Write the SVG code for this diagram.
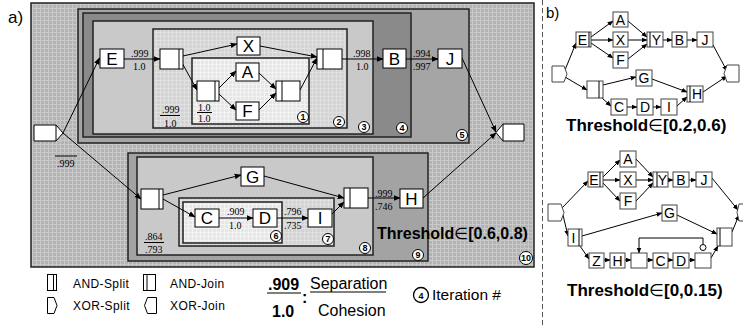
<svg xmlns="http://www.w3.org/2000/svg" width="743" height="325" viewBox="0 0 743 325">
<defs>
<pattern id="p10" width="4" height="4" patternUnits="userSpaceOnUse"><rect width="4" height="4" fill="#b3b3b3"/><path d="M0,0.5H4M0.5,0V4" stroke="#c9c9c9" stroke-width="1"/></pattern>
<pattern id="p2" width="4" height="4" patternUnits="userSpaceOnUse"><rect width="4" height="4" fill="#d3d3d3"/><path d="M0,0.5H4M0.5,0V4" stroke="#e0e0e0" stroke-width="1"/></pattern>
<pattern id="p1" width="4" height="4" patternUnits="userSpaceOnUse"><rect width="4" height="4" fill="#e6e6e6"/><path d="M0,0.5H4M0.5,0V4" stroke="#f3f3f3" stroke-width="1"/></pattern>
<marker id="ah" viewBox="0 0 10 10" refX="9" refY="5" markerWidth="7" markerHeight="7" markerUnits="userSpaceOnUse" orient="auto"><path d="M0,1L10,5L0,9z" fill="#000"/></marker>
<marker id="as" viewBox="0 0 10 10" refX="9" refY="5" markerWidth="6" markerHeight="6" markerUnits="userSpaceOnUse" orient="auto"><path d="M0,1L10,5L0,9z" fill="#000"/></marker>
</defs>
<style>
.rg{stroke:#222;stroke-width:1.5}
.n{fill:#fff;stroke:#000;stroke-width:1}
.nb{fill:#fff;stroke:#444;stroke-width:1}
.bar{stroke:#000;stroke-width:1;fill:none}
.nt{font-family:"Liberation Sans",Arial,sans-serif;font-size:17px;text-anchor:middle}
.bt{font-family:"Liberation Sans",Arial,sans-serif;font-size:14px;text-anchor:middle}
.fr{font-family:"Liberation Serif","Times New Roman",serif;font-size:10px}
.c{fill:none;stroke:#000;stroke-width:1;marker-end:url(#ah)}
.cs{fill:none;stroke:#000;stroke-width:1;marker-end:url(#as)}
.ci{fill:#fff;stroke:#000;stroke-width:1}
.cn{font-family:"Liberation Sans",Arial,sans-serif;font-size:9px;font-weight:bold;text-anchor:middle}
.th{font-family:"Liberation Sans",Arial,sans-serif;font-weight:bold}
.el{font-family:"DejaVu Sans",sans-serif;font-weight:normal}
.lg{font-family:"Liberation Sans",Arial,sans-serif;font-size:12px;letter-spacing:0.4px}
.sa{font-family:"Liberation Sans",Arial,sans-serif}
</style>
<rect width="743" height="325" fill="#fff"/>
<text class="sa" x="8" y="23" font-size="17">a)</text>
<text class="sa" x="546" y="18" font-size="15">b)</text>
<line x1="542.5" y1="0" x2="542.5" y2="325" stroke="#555" stroke-width="1" stroke-dasharray="5,3"/>

<g id="regions">
<g id="region10"><rect class="rg" x="31" y="3" width="503" height="264" fill="url(#p10)"/><circle class="ci" cx="526" cy="258" r="6.5"/><text class="cn" x="526" y="261" font-size="8">10</text></g>
<g id="region5"><rect class="rg" x="78" y="9" width="391" height="134" fill="#a5a5a5"/><circle class="ci" cx="462" cy="135" r="5.5"/><text class="cn" x="462" y="138.2">5</text></g>
<g id="region4"><rect class="rg" x="83" y="13" width="328" height="124" fill="#8a8a8a"/><circle class="ci" cx="402" cy="128" r="5.5"/><text class="cn" x="402" y="131.2">4</text></g>
<g id="region3"><rect class="rg" x="93" y="21" width="280" height="113" fill="#c9c9c9"/><circle class="ci" cx="364" cy="127" r="5.5"/><text class="cn" x="364" y="130.2">3</text></g>
<g id="region2"><rect class="rg" x="153" y="29" width="194" height="99" fill="url(#p2)" stroke-width="1"/><circle class="ci" cx="339" cy="122" r="5.5"/><text class="cn" x="339" y="125.2">2</text></g>
<g id="region1"><rect class="rg" x="192" y="58" width="117" height="66" fill="url(#p1)" stroke-width="1"/><circle class="ci" cx="303" cy="117" r="5.5"/><text class="cn" x="303" y="120.2">1</text></g>
<g id="region9"><rect class="rg" x="128" y="153" width="300" height="108" fill="#a3a3a3"/><circle class="ci" cx="418" cy="255" r="5.5"/><text class="cn" x="418" y="258.2">9</text></g>
<g id="region8"><rect class="rg" x="137" y="157" width="236" height="98" fill="#c9c9c9"/><circle class="ci" cx="365" cy="248" r="5.5"/><text class="cn" x="365" y="251.2">8</text></g>
<g id="region7"><rect class="rg" x="179" y="198" width="155" height="48" fill="url(#p2)" stroke-width="1"/><circle class="ci" cx="328" cy="239" r="5.5"/><text class="cn" x="328" y="242.2">7</text></g>
<g id="region6"><rect class="rg" x="183" y="202" width="99" height="41" fill="url(#p1)" stroke-width="1"/><circle class="ci" cx="276" cy="236" r="5.5"/><text class="cn" x="276" y="239.2">6</text></g>
</g>

<g id="connectors-a">
<path class="c" d="M63,133L99.5,58"/>
<path class="c" d="M63,133L141,199"/>
<path class="c" d="M124,59H160"/>
<path class="c" d="M183,56L237,44"/>
<path class="c" d="M181,61L197,90"/>
<path class="c" d="M219,88L236,71"/>
<path class="c" d="M219,94L236,110"/>
<path class="c" d="M259,73L276,89"/>
<path class="c" d="M259,110L276,93"/>
<path class="c" d="M260,46L317,57"/>
<path class="c" d="M300,90L317,58"/>
<path class="c" d="M342,59H383"/>
<path class="c" d="M406,59H438"/>
<path class="c" d="M462,58L496,132"/>
<path class="c" d="M423,198L496,133"/>
<path class="c" d="M163,195L241,175"/>
<path class="c" d="M163,199L195,217"/>
<path class="c" d="M264,176L344,198"/>
<path class="c" d="M219,218H253"/>
<path class="c" d="M277,218H308"/>
<path class="c" d="M332,214L344,202"/>
<path class="c" d="M368,198H400"/>
</g>

<g id="nodes-a">
<g id="start"><path class="n" d="M34,125H56L63,133L56,141H34Z"/><line class="bar" x1="56" y1="125" x2="56" y2="141"/></g>
<g id="E"><rect class="n" x="100" y="49" width="24" height="19"/><text class="nt" x="112" y="65">E</text></g>
<g id="split1"><rect class="n" x="160" y="49" width="23" height="20"/><line class="bar" x1="179" y1="49" x2="179" y2="69"/></g>
<g id="X"><rect class="n" x="237" y="37" width="23" height="18"/><text class="nt" x="248.5" y="52">X</text></g>
<g id="split2"><rect class="n" x="197" y="81" width="22" height="20"/><line class="bar" x1="215" y1="81" x2="215" y2="101"/></g>
<g id="A"><rect class="n" x="236" y="63" width="23" height="18"/><text class="nt" x="247.5" y="78">A</text></g>
<g id="F"><rect class="n" x="236" y="102" width="23" height="18"/><text class="nt" x="247.5" y="117">F</text></g>
<g id="join1"><rect class="n" x="276" y="81" width="24" height="20"/><line class="bar" x1="282" y1="81" x2="282" y2="101"/></g>
<g id="join2"><rect class="n" x="317" y="49" width="25" height="20"/><line class="bar" x1="323" y1="49" x2="323" y2="69"/></g>
<g id="B"><rect class="n" x="383" y="49" width="23" height="19"/><text class="nt" x="394.5" y="65">B</text></g>
<g id="J"><rect class="n" x="438" y="49" width="24" height="19"/><text class="nt" x="450" y="65">J</text></g>
<g id="end"><path class="n" d="M503,124H524V141H503L496,132.5Z"/><line class="bar" x1="503" y1="124" x2="503" y2="141"/></g>
<g id="split3"><rect class="n" x="141" y="189" width="22" height="20"/><line class="bar" x1="159" y1="189" x2="159" y2="209"/></g>
<g id="G"><rect class="n" x="241" y="167" width="23" height="19"/><text class="nt" x="252.5" y="183">G</text></g>
<g id="C"><rect class="n" x="195" y="209" width="24" height="18"/><text class="nt" x="207" y="224">C</text></g>
<g id="D"><rect class="n" x="253" y="209" width="24" height="18"/><text class="nt" x="265" y="224">D</text></g>
<g id="I"><rect class="n" x="308" y="209" width="24" height="18"/><text class="nt" x="320" y="224">I</text></g>
<g id="join3"><rect class="n" x="344" y="188" width="24" height="20"/><line class="bar" x1="350" y1="188" x2="350" y2="208"/></g>
<g id="H"><rect class="n" x="400" y="189" width="23" height="19"/><text class="nt" x="411.5" y="205">H</text></g>
</g>

<g id="labels-a">
<text class="fr" x="131" y="57">.999</text><text class="fr" x="133" y="70">1.0</text>
<text class="fr" x="162" y="113">.999</text><line x1="160" y1="115.5" x2="180" y2="115.5" stroke="#000"/><text class="fr" x="164" y="127">1.0</text>
<text class="fr" x="198" y="111">1.0</text><line x1="197" y1="112.5" x2="212" y2="112.5" stroke="#000"/><text class="fr" x="198" y="122">1.0</text>
<text class="fr" x="353" y="57">.998</text><text class="fr" x="356" y="70">1.0</text>
<text class="fr" x="413" y="57">.994</text><text class="fr" x="413" y="70">.997</text>
<line x1="55" y1="156" x2="77" y2="156" stroke="#000"/><text class="fr" x="57" y="167">.999</text>
<text class="fr" x="227" y="215">.909</text><text class="fr" x="229" y="229">1.0</text>
<text class="fr" x="284" y="215">.796</text><text class="fr" x="284" y="229">.735</text>
<text class="fr" x="375" y="197">.999</text><text class="fr" x="375" y="210">.746</text>
<text class="fr" x="145" y="240">.864</text><line x1="144" y1="242.5" x2="164" y2="242.5" stroke="#000"/><text class="fr" x="145" y="253">.793</text>
<text class="th" x="377" y="239" font-size="16">Threshold<tspan class="el">∈</tspan>[0.6,0.8)</text>
</g>

<g id="connectors-b">
<path class="cs" d="M565,70L576,43"/>
<path class="cs" d="M565,77L587,90"/>
<path class="cs" d="M591,37L613,21"/>
<path class="cs" d="M591,40H613"/>
<path class="cs" d="M591,43L613,58"/>
<path class="cs" d="M628,21L647,37"/>
<path class="cs" d="M628,40H647"/>
<path class="cs" d="M628,59L647,44"/>
<path class="cs" d="M663,40H672"/>
<path class="cs" d="M687,40H697"/>
<path class="cs" d="M713,45L727,71"/>
<path class="cs" d="M603,85L636,77"/>
<path class="cs" d="M602,98L611,106"/>
<path class="cs" d="M652,79L687,92"/>
<path class="cs" d="M627,107H637"/>
<path class="cs" d="M653,107H661"/>
<path class="cs" d="M677,106L687,97"/>
<path class="cs" d="M703,92L727,76"/>

<path class="cs" d="M562,208L588,181"/>
<path class="cs" d="M563,215L568,236"/>
<path class="cs" d="M603,177L620,160"/>
<path class="cs" d="M603,180H620"/>
<path class="cs" d="M603,183L620,201"/>
<path class="cs" d="M636,159L653,177"/>
<path class="cs" d="M636,180H653"/>
<path class="cs" d="M636,201L653,183"/>
<path class="cs" d="M668,180H673"/>
<path class="cs" d="M689,180H696"/>
<path class="cs" d="M712,178L738,210"/>
<path class="cs" d="M582,236L662,213"/>
<path class="cs" d="M580,246L589,259"/>
<path class="cs" d="M677,215L717,234"/>
<path class="cs" d="M604,260H610"/>
<path class="cs" d="M625,260H631"/>
<path class="cs" d="M647,260H653"/>
<path class="cs" d="M668,260H673"/>
<path class="cs" d="M689,260H695"/>
<path class="cs" d="M711,258L718,246"/>
<path class="cs" d="M732,232L739,215"/>
<path class="cs" d="M703,244.5V238H639V253"/>
</g>

<g id="nodes-b">
<g id="b1-start"><path class="nb" d="M552,66H564L567,74L564,82H552Z"/></g>
<g id="b1-E"><rect class="nb" x="576" y="32" width="15" height="15"/><line class="bar" x1="589" y1="32" x2="589" y2="47"/><text class="bt" x="582.5" y="44.5">E</text></g>
<g id="b1-A"><rect class="nb" x="613" y="12" width="15" height="15"/><text class="bt" x="620.5" y="24.5">A</text></g>
<g id="b1-X"><rect class="nb" x="613" y="32" width="15" height="15"/><text class="bt" x="620.5" y="44.5">X</text></g>
<g id="b1-F"><rect class="nb" x="613" y="52" width="15" height="16"/><text class="bt" x="620.5" y="65">F</text></g>
<g id="b1-Y"><rect class="nb" x="647" y="32" width="16" height="15"/><line class="bar" x1="650" y1="32" x2="650" y2="47"/><text class="bt" x="656.5" y="44.5">Y</text></g>
<g id="b1-B"><rect class="nb" x="672" y="32" width="15" height="15"/><text class="bt" x="679.5" y="44.5">B</text></g>
<g id="b1-J"><rect class="nb" x="697" y="32" width="16" height="15"/><text class="bt" x="705" y="44.5">J</text></g>
<g id="b1-end"><path class="nb" d="M727,65H739V82H727L724,73.5Z"/></g>
<g id="b1-split"><rect class="nb" x="587" y="81" width="16" height="17"/><line class="bar" x1="599" y1="81" x2="599" y2="98"/></g>
<g id="b1-G"><rect class="nb" x="636" y="70" width="16" height="16"/><text class="bt" x="644" y="83">G</text></g>
<g id="b1-C"><rect class="nb" x="611" y="99" width="16" height="16"/><text class="bt" x="619" y="112">C</text></g>
<g id="b1-D"><rect class="nb" x="637" y="99" width="16" height="16"/><text class="bt" x="645" y="112">D</text></g>
<g id="b1-I"><rect class="nb" x="661" y="99" width="16" height="16"/><text class="bt" x="669" y="112">I</text></g>
<g id="b1-H"><rect class="nb" x="687" y="86" width="16" height="16"/><line class="bar" x1="690" y1="86" x2="690" y2="102"/><text class="bt" x="697" y="99">H</text></g>
<text class="th" x="566" y="131" font-size="17">Threshold<tspan class="el">∈</tspan>[0.2,0.6)</text>

<g id="b2-start"><path class="nb" d="M548,204H561L564,212.5L561,221H548Z"/></g>
<g id="b2-E"><rect class="nb" x="588" y="172" width="15" height="15"/><line class="bar" x1="600" y1="172" x2="600" y2="187"/><text class="bt" x="594" y="184.5">E</text></g>
<g id="b2-A"><rect class="nb" x="620" y="151" width="16" height="16"/><text class="bt" x="628" y="164">A</text></g>
<g id="b2-X"><rect class="nb" x="620" y="172" width="16" height="15"/><text class="bt" x="628" y="184.5">X</text></g>
<g id="b2-F"><rect class="nb" x="620" y="193" width="16" height="16"/><text class="bt" x="628" y="206">F</text></g>
<g id="b2-Y"><rect class="nb" x="653" y="172" width="15" height="15"/><line class="bar" x1="657" y1="172" x2="657" y2="187"/><text class="bt" x="662.5" y="184.5">Y</text></g>
<g id="b2-B"><rect class="nb" x="673" y="172" width="16" height="15"/><text class="bt" x="681" y="184.5">B</text></g>
<g id="b2-J"><rect class="nb" x="696" y="172" width="16" height="15"/><text class="bt" x="704" y="184.5">J</text></g>
<g id="b2-end"><path class="nb" d="M739,204H755V221H739L737,212.5Z"/></g>
<g id="b2-G"><rect class="nb" x="662" y="205" width="15" height="16"/><text class="bt" x="669.5" y="218">G</text></g>
<g id="b2-split"><rect class="nb" x="568" y="229" width="14" height="17"/><line class="bar" x1="579" y1="229" x2="579" y2="246"/><text class="bt" x="573.5" y="242.5">I</text></g>
<g id="b2-join"><rect class="nb" x="717" y="228" width="15" height="18"/><line class="bar" x1="720" y1="228" x2="720" y2="246"/></g>
<g id="b2-Z"><rect class="nb" x="589" y="253" width="15" height="15"/><text class="bt" x="596.5" y="265.5">Z</text></g>
<g id="b2-H"><rect class="nb" x="610" y="253" width="15" height="15"/><text class="bt" x="617.5" y="265.5">H</text></g>
<g id="b2-e1"><rect class="nb" x="631" y="253" width="16" height="15"/></g>
<g id="b2-C"><rect class="nb" x="653" y="253" width="15" height="15"/><text class="bt" x="660.5" y="265.5">C</text></g>
<g id="b2-D"><rect class="nb" x="673" y="253" width="16" height="15"/><text class="bt" x="681" y="265.5">D</text></g>
<g id="b2-e2"><rect class="nb" x="695" y="253" width="16" height="15"/><circle cx="703" cy="247.5" r="3" fill="#fff" stroke="#000"/></g>
<text class="th" x="567" y="296" font-size="17">Threshold<tspan class="el">∈</tspan>[0,0.15)</text>
</g>

<g id="legend">
<g id="lg-andsplit"><rect class="n" x="47.5" y="274.5" width="9" height="16"/><line class="bar" x1="53.5" y1="274.5" x2="53.5" y2="290.5"/><text class="lg" x="73" y="288">AND-Split</text></g>
<g id="lg-andjoin"><rect class="n" x="143.5" y="274.5" width="12" height="16"/><line class="bar" x1="147" y1="274.5" x2="147" y2="290.5"/><text class="lg" x="170" y="288">AND-Join</text></g>
<g id="lg-xorsplit"><path class="n" d="M47.5,297.5H54L57,305.5L54,313.5H47.5Z"/><text class="lg" x="73" y="310">XOR-Split</text></g>
<g id="lg-xorjoin"><path class="n" d="M147.5,297.5H156.5V313.5H147.5L144.5,305.5Z"/><text class="lg" x="170" y="310">XOR-Join</text></g>
<text class="sa" x="268" y="290" font-size="16" font-weight="bold">.909</text><line x1="267" y1="293" x2="301" y2="293" stroke="#000" stroke-width="1.2"/>
<text class="sa" x="272" y="317" font-size="16" font-weight="bold">1.0</text>
<text class="sa" x="302" y="303" font-size="16" font-weight="bold">:</text>
<text class="sa" x="310" y="289" font-size="16">Separation</text><line x1="310" y1="292" x2="386" y2="292" stroke="#000" stroke-width="1"/>
<text class="sa" x="318" y="316" font-size="16">Cohesion</text>
<circle cx="421" cy="295" r="7.5" fill="#fff" stroke="#000" stroke-width="1.3"/><text class="cn" x="421" y="299" font-size="11">4</text>
<text class="sa" x="432" y="300" font-size="15.5">Iteration #</text>
</g>
</svg>
